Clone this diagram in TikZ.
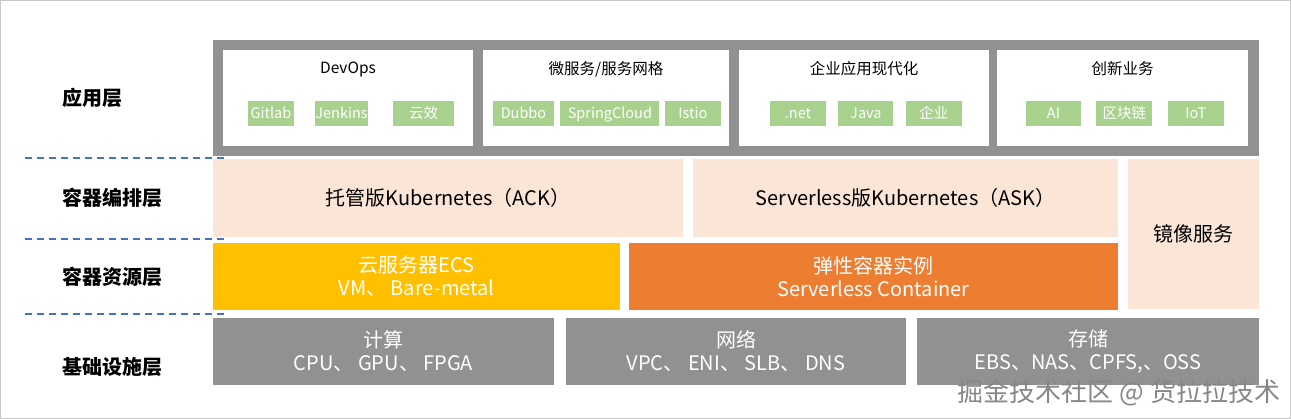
\documentclass[tikz,border=0pt]{standalone}
\usepackage{fontspec}
\setmainfont{Noto Sans CJK SC}
\usepackage{tikz}
\usetikzlibrary{positioning}
\usepackage{xcolor}
\definecolor{stkgray}{RGB}{145,145,145}
\definecolor{stkgreen}{RGB}{169,209,142}
\definecolor{stkpink}{RGB}{251,229,214}
\definecolor{stkyellow}{RGB}{255,192,0}
\definecolor{stkorange}{RGB}{237,125,49}
\definecolor{stkblue}{RGB}{68,114,196}
\definecolor{stkborder}{RGB}{200,200,200}
\definecolor{stkmark}{RGB}{135,135,135}
\tikzstyle{layerlabel} = [anchor=west, inner sep=0pt, font=\fontsize{20}{24}\selectfont\bfseries]
\tikzstyle{frame} = [rectangle, fill=stkgray, inner sep=0pt]
\tikzstyle{appbox} = [rectangle, fill=white, minimum height=96pt, inner sep=0pt]
\tikzstyle{apptitle} = [inner sep=0pt, font=\fontsize{15.5}{18}\selectfont]
\tikzstyle{tag} = [rectangle, fill=stkgreen, text=white, minimum height=25pt, inner sep=0pt, text height=12pt, text depth=2pt, font=\fontsize{14.5}{16}\selectfont]
\tikzstyle{orch} = [rectangle, fill=stkpink, inner sep=0pt, align=center, font=\fontsize{20}{24}\selectfont]
\tikzstyle{resource} = [rectangle, text=white, minimum height=67pt, inner sep=0pt, align=center, font=\fontsize{20}{23}\selectfont]
\tikzstyle{sepline} = [stkblue, line width=1.6pt, dash pattern=on 7pt off 5pt]

\begin{document}
\begin{tikzpicture}[x=1pt, y=-1pt]
\useasboundingbox (0,0) rectangle (1291,419);
\draw[stkborder, line width=1pt] (0.5,0.5) rectangle (1290.5,418.5);

% Layer names
\node (applayer) [layerlabel] at (62,98) {应用层};
\node (orchlayer) [layerlabel] at (62,198) {容器编排层};
\node (reslayer) [layerlabel] at (62,277) {容器资源层};
\node (infralayer) [layerlabel] at (62,367) {基础设施层};
\foreach \y [count=\i] in {158,239,314} {
  \coordinate (sepl\i) at (25,\y);
  \coordinate (sepr\i) at (228,\y);
  \draw[sepline] (sepl\i) -- (sepr\i);
}

% Application layer
\node (appframe) [frame, minimum width=1046pt, minimum height=116pt] at (736,98) {};
\node (devops) [appbox, minimum width=250pt] at (348,98) {};
\node (micro) [appbox, minimum width=246pt] at (606,98) {};
\node (enterprise) [appbox, minimum width=250pt] at (864,98) {};
\node (innovation) [appbox, minimum width=251pt] at (1122.5,98) {};
\node (devopstitle) [apptitle] at (348,69) {DevOps};
\node (microtitle) [apptitle] at (606,69) {微服务/服务网格};
\node (enterprisetitle) [apptitle] at (864,69) {企业应用现代化};
\node (innovationtitle) [apptitle] at (1122.5,69) {创新业务};

\node (gitlab) [tag, minimum width=46pt] at (271,114) {Gitlab};
\node (jenkins) [tag, minimum width=51pt, right=21pt of gitlab] {Jenkins};
\node (yunxiao) [tag, minimum width=61pt, right=25pt of jenkins] {云效};
\node (dubbo) [tag, minimum width=61pt] at (523.5,114) {Dubbo};
\node (springcloud) [tag, minimum width=99pt, right=6pt of dubbo] {SpringCloud};
\node (istio) [tag, minimum width=56pt, right=5pt of springcloud] {Istio};
\node (dotnet) [tag, minimum width=56pt] at (798,114) {.net};
\node (java) [tag, minimum width=55pt, right=12pt of dotnet] {Java};
\node (qiye) [tag, minimum width=56pt, right=12pt of java] {企业};
\node (ai) [tag, minimum width=55pt] at (1053.5,114) {AI};
\node (blockchain) [tag, minimum width=56pt, right=15pt of ai] {区块链};
\node (iot) [tag, minimum width=56pt, right=15pt of blockchain] {IoT};

% Orchestration layer
\node (ack) [orch, minimum width=470pt, minimum height=78pt] at (448,198) {托管版Kubernetes（ACK）};
\node (ask) [orch, minimum width=425pt, minimum height=78pt] at (905.5,198) {Serverless版Kubernetes（ASK）};
\node (registry) [orch, minimum width=131pt, minimum height=150pt] at (1193.5,234) {镜像服务};

% Resource layer
\node (ecs) [resource, fill=stkyellow, minimum width=407pt] at (416.5,276.5) {云服务器ECS\\VM、 Bare-metal};
\node (eci) [resource, fill=stkorange, minimum width=489pt] at (873.5,276.5) {弹性容器实例\\Serverless Container};

% Infrastructure layer
\node (compute) [resource, fill=stkgray, minimum width=341pt] at (383.5,351.5) {计算\\CPU、 GPU、 FPGA};
\node (network) [resource, fill=stkgray, minimum width=340pt] at (736,351.5) {网络\\VPC、 ENI、 SLB、 DNS};
\node (storage) [resource, fill=stkgray, minimum width=342pt] at (1088,351.5) {存储\\EBS、NAS、CPFS,、OSS};

\node (watermark) [inner sep=0pt, text=stkmark, font=\fontsize{26}{30}\selectfont] at (1119,393) {掘金技术社区 @ 货拉拉技术};
\end{tikzpicture}
\end{document}
